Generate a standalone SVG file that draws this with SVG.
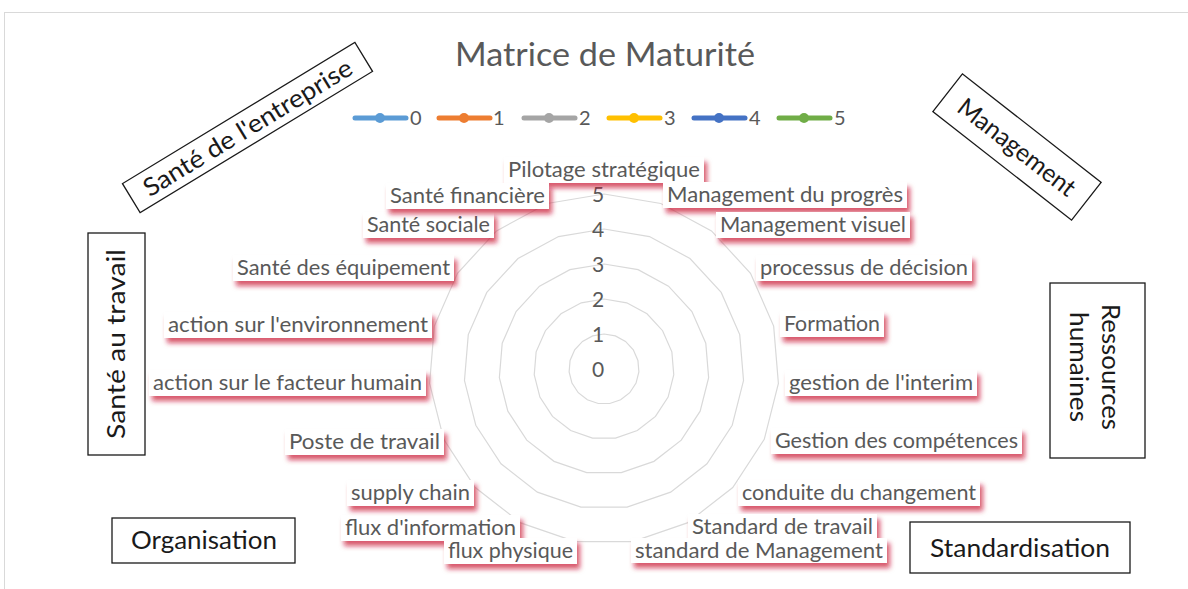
<svg xmlns="http://www.w3.org/2000/svg" xmlns:xlink="http://www.w3.org/1999/xlink" width="1188" height="589" viewBox="0 0 1188 589">
<defs>
<style>
.lbl{font-family:Lato,"Liberation Sans",sans-serif;font-size:21px;fill:#595959}
.box{fill:#fff;filter:url(#redShadow)}
.ring{fill:none;stroke:#d9d9d9;stroke-width:1.2}
.axis{font-family:Lato,"Liberation Sans",sans-serif;font-size:21px;fill:#595959;text-anchor:middle}
.cat{fill:#fff;stroke:#1a1a1a;stroke-width:1.3}
.cattxt{font-family:Lato,"Liberation Sans",sans-serif;font-size:25px;fill:#1a1a1a;text-anchor:middle}
.leg{stroke-width:5;stroke-linecap:round}
.legt{font-family:Lato,"Liberation Sans",sans-serif;font-size:20px;fill:#595959}
</style>
<filter id="redShadow" x="-10%" y="-40%" width="125%" height="220%">
<feDropShadow dx="3" dy="5" stdDeviation="2.6" flood-color="#c8102e" flood-opacity="0.7"/>
</filter>
</defs>
<rect x="0" y="0" width="1188" height="589" fill="#fff"/>
<rect x="4.5" y="12.5" width="1200" height="600" fill="none" stroke="#d9d9d9" stroke-width="1"/>

<text x="605" y="66" font-family="Lato,'Liberation Sans',sans-serif" font-size="32" fill="#595959" text-anchor="middle" textLength="300" lengthAdjust="spacingAndGlyphs">Matrice de Maturité</text>

<g id="legend">
<line class="leg" x1="355" y1="118" x2="406" y2="118" stroke="#5b9bd5"/><circle cx="380" cy="118" r="5" fill="#5b9bd5"/><text class="legt" x="410" y="125">0</text>
<line class="leg" x1="439" y1="118" x2="490" y2="118" stroke="#ed7d31"/><circle cx="464" cy="118" r="5" fill="#ed7d31"/><text class="legt" x="493" y="125">1</text>
<line class="leg" x1="524" y1="118" x2="575" y2="118" stroke="#a5a5a5"/><circle cx="549" cy="118" r="5" fill="#a5a5a5"/><text class="legt" x="579" y="125">2</text>
<line class="leg" x1="609" y1="118" x2="660" y2="118" stroke="#ffc000"/><circle cx="634" cy="118" r="5" fill="#ffc000"/><text class="legt" x="664" y="125">3</text>
<line class="leg" x1="694" y1="118" x2="745" y2="118" stroke="#4472c4"/><circle cx="719" cy="118" r="5" fill="#4472c4"/><text class="legt" x="749" y="125">4</text>
<line class="leg" x1="779" y1="118" x2="830" y2="118" stroke="#70ad47"/><circle cx="804" cy="118" r="5" fill="#70ad47"/><text class="legt" x="834" y="125">5</text>
</g>

<g id="grid" transform="translate(604 369)">
<g class="ring"><polygon points="0,-35 11.364,-33.104 21.497,-27.620 29.301,-19.143 33.929,-8.592 34.880,2.890 32.052,14.060 25.750,23.705 16.658,30.781 5.761,34.523 -5.761,34.523 -16.658,30.781 -25.750,23.705 -32.052,14.060 -34.880,2.890 -33.929,-8.592 -29.301,-19.143 -21.497,-27.620 -11.364,-33.104" vector-effect="non-scaling-stroke"/></g>
<g class="ring"><polygon points="0,-35 11.364,-33.104 21.497,-27.620 29.301,-19.143 33.929,-8.592 34.880,2.890 32.052,14.060 25.750,23.705 16.658,30.781 5.761,34.523 -5.761,34.523 -16.658,30.781 -25.750,23.705 -32.052,14.060 -34.880,2.890 -33.929,-8.592 -29.301,-19.143 -21.497,-27.620 -11.364,-33.104" transform="scale(2)" vector-effect="non-scaling-stroke"/></g>
<g class="ring"><polygon points="0,-35 11.364,-33.104 21.497,-27.620 29.301,-19.143 33.929,-8.592 34.880,2.890 32.052,14.060 25.750,23.705 16.658,30.781 5.761,34.523 -5.761,34.523 -16.658,30.781 -25.750,23.705 -32.052,14.060 -34.880,2.890 -33.929,-8.592 -29.301,-19.143 -21.497,-27.620 -11.364,-33.104" transform="scale(3)" vector-effect="non-scaling-stroke"/></g>
<g class="ring"><polygon points="0,-35 11.364,-33.104 21.497,-27.620 29.301,-19.143 33.929,-8.592 34.880,2.890 32.052,14.060 25.750,23.705 16.658,30.781 5.761,34.523 -5.761,34.523 -16.658,30.781 -25.750,23.705 -32.052,14.060 -34.880,2.890 -33.929,-8.592 -29.301,-19.143 -21.497,-27.620 -11.364,-33.104" transform="scale(4)" vector-effect="non-scaling-stroke"/></g>
<g class="ring"><polygon points="0,-35 11.364,-33.104 21.497,-27.620 29.301,-19.143 33.929,-8.592 34.880,2.890 32.052,14.060 25.750,23.705 16.658,30.781 5.761,34.523 -5.761,34.523 -16.658,30.781 -25.750,23.705 -32.052,14.060 -34.880,2.890 -33.929,-8.592 -29.301,-19.143 -21.497,-27.620 -11.364,-33.104" transform="scale(5)" vector-effect="non-scaling-stroke"/></g>
</g>

<g id="axis-labels">
<text class="axis" x="598" y="377">0</text>
<text class="axis" x="598" y="342">1</text>
<text class="axis" x="598" y="307">2</text>
<text class="axis" x="598" y="272">3</text>
<text class="axis" x="598" y="237">4</text>
<text class="axis" x="598" y="202">5</text>
</g>

<g id="cat-labels">
<g id="l-pilotage"><rect class="box" x="504" y="157" width="200" height="26"/><text class="lbl" x="508" y="177" textLength="192" lengthAdjust="spacingAndGlyphs">Pilotage stratégique</text></g>
<g id="l-mprogres"><rect class="box" x="663" y="182" width="244" height="26"/><text class="lbl" x="667" y="202" textLength="236" lengthAdjust="spacingAndGlyphs">Management du progrès</text></g>
<g id="l-mvisuel"><rect class="box" x="716" y="212" width="194" height="26"/><text class="lbl" x="720" y="232" textLength="186" lengthAdjust="spacingAndGlyphs">Management visuel</text></g>
<g id="l-decision"><rect class="box" x="756" y="255" width="216" height="26"/><text class="lbl" x="760" y="275" textLength="208" lengthAdjust="spacingAndGlyphs">processus de décision</text></g>
<g id="l-formation"><rect class="box" x="780" y="311" width="104" height="26"/><text class="lbl" x="784" y="331" textLength="96" lengthAdjust="spacingAndGlyphs">Formation</text></g>
<g id="l-interim"><rect class="box" x="785" y="370" width="192" height="26"/><text class="lbl" x="789" y="390" textLength="184" lengthAdjust="spacingAndGlyphs">gestion de l'interim</text></g>
<g id="l-competences"><rect class="box" x="771" y="428" width="251" height="26"/><text class="lbl" x="775" y="448" textLength="243" lengthAdjust="spacingAndGlyphs">Gestion des compétences</text></g>
<g id="l-changement"><rect class="box" x="738" y="480" width="242" height="26"/><text class="lbl" x="742" y="500" textLength="234" lengthAdjust="spacingAndGlyphs">conduite du changement</text></g>
<g id="l-stdtravail"><rect class="box" x="688" y="514" width="189" height="25"/><text class="lbl" x="692" y="534" font-size="20" textLength="181" lengthAdjust="spacingAndGlyphs">Standard de travail</text></g>
<g id="l-stdmgmt"><rect class="box" x="631" y="538" width="256" height="25"/><text class="lbl" x="635" y="558" font-size="20" textLength="248" lengthAdjust="spacingAndGlyphs">standard de Management</text></g>
<g id="l-fluxinfo"><rect class="box" x="341" y="515" width="179" height="26"/><text class="lbl" x="345" y="535" textLength="171" lengthAdjust="spacingAndGlyphs">flux d'information</text></g>
<g id="l-fluxphys"><rect class="box" x="444" y="538" width="133" height="26"/><text class="lbl" x="448" y="558" textLength="125" lengthAdjust="spacingAndGlyphs">flux physique</text></g>
<g id="l-supply"><rect class="box" x="347" y="480" width="127" height="26"/><text class="lbl" x="351" y="500" textLength="119" lengthAdjust="spacingAndGlyphs">supply chain</text></g>
<g id="l-poste"><rect class="box" x="285" y="429" width="159" height="26"/><text class="lbl" x="289" y="449" textLength="151" lengthAdjust="spacingAndGlyphs">Poste de travail</text></g>
<g id="l-humain"><rect class="box" x="149" y="370" width="277" height="26"/><text class="lbl" x="153" y="390" textLength="269" lengthAdjust="spacingAndGlyphs">action sur le facteur humain</text></g>
<g id="l-env"><rect class="box" x="164" y="312" width="268" height="26"/><text class="lbl" x="168" y="332" textLength="260" lengthAdjust="spacingAndGlyphs">action sur l'environnement</text></g>
<g id="l-equip"><rect class="box" x="233" y="255" width="221" height="26"/><text class="lbl" x="237" y="275" textLength="213" lengthAdjust="spacingAndGlyphs">Santé des équipement</text></g>
<g id="l-sociale"><rect class="box" x="363" y="212" width="131" height="26"/><text class="lbl" x="367" y="232" textLength="123" lengthAdjust="spacingAndGlyphs">Santé sociale</text></g>
<g id="l-financiere"><rect class="box" x="386" y="183" width="163" height="26"/><text class="lbl" x="390" y="203" textLength="155" lengthAdjust="spacingAndGlyphs">Santé financière</text></g>
</g>

<g id="n-entreprise" transform="translate(247.5 127.5) rotate(-31.3)">
<rect class="cat" x="-136" y="-17" width="272" height="34"/>
<text class="cattxt" x="0" y="9" textLength="240" lengthAdjust="spacingAndGlyphs">Santé de l'entreprise</text>
</g>
<g id="n-management" transform="translate(1017 147) rotate(38)">
<rect class="cat" x="-88" y="-24" width="176" height="48"/>
<text class="cattxt" x="0" y="9" textLength="142" lengthAdjust="spacingAndGlyphs">Management</text>
</g>
<g id="n-travail">
<rect class="cat" x="88" y="233" width="57" height="222"/>
<text class="cattxt" transform="translate(125 344) rotate(-90)" x="0" y="0" textLength="190" lengthAdjust="spacingAndGlyphs">Santé au travail</text>
</g>
<g id="n-rh">
<rect class="cat" x="1050" y="283" width="95" height="175"/>
<text class="cattxt" transform="translate(1102 367) rotate(90)" x="0" y="0" textLength="126" lengthAdjust="spacingAndGlyphs">Ressources</text>
<text class="cattxt" transform="translate(1070 367) rotate(90)" x="0" y="0" textLength="110" lengthAdjust="spacingAndGlyphs">humaines</text>
</g>
<g id="n-organisation">
<rect class="cat" x="112" y="518" width="183" height="45"/>
<text class="cattxt" x="204" y="549" textLength="146" lengthAdjust="spacingAndGlyphs">Organisation</text>
</g>
<g id="n-standardisation">
<rect class="cat" x="910" y="522" width="220" height="51"/>
<text class="cattxt" x="1020" y="557" textLength="180" lengthAdjust="spacingAndGlyphs">Standardisation</text>
</g>
</svg>
